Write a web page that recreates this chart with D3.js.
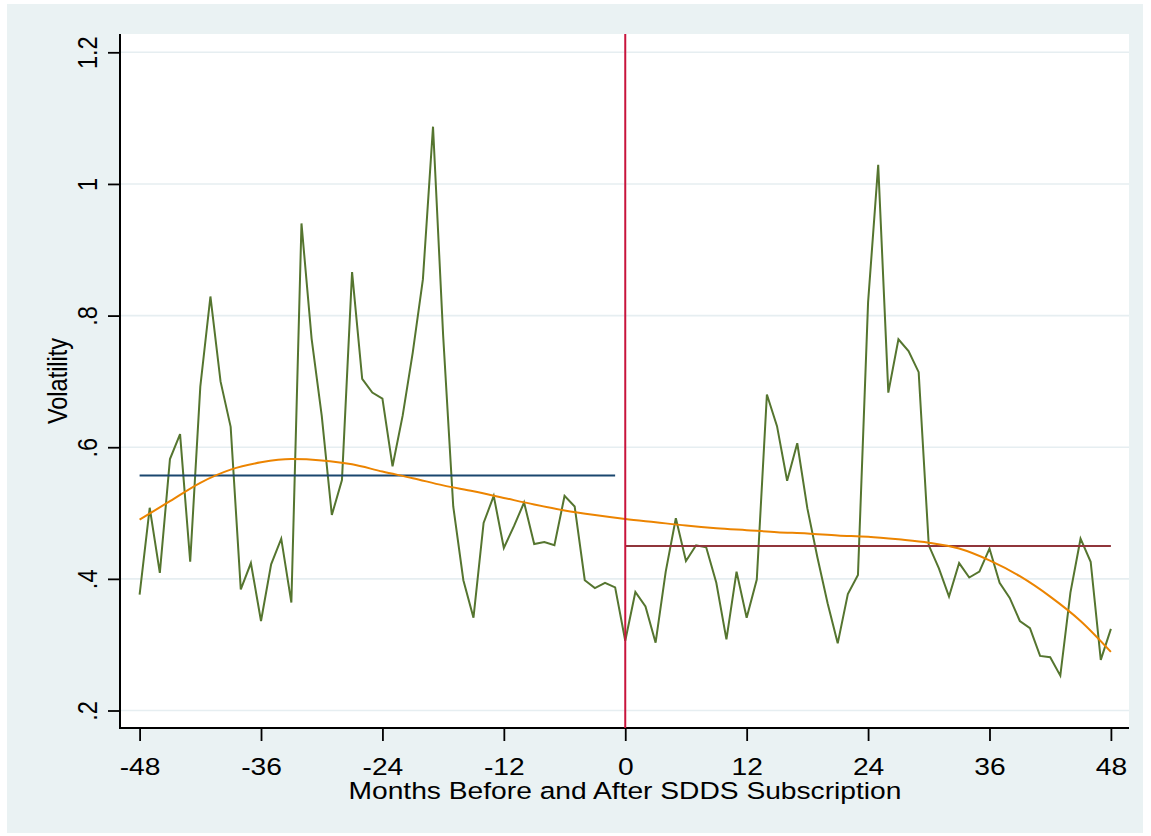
<!DOCTYPE html>
<html>
<head>
<meta charset="utf-8">
<script src="https://cdn.jsdelivr.net/npm/d3@7/dist/d3.min.js"></script>
<style>
  html, body { margin: 0; padding: 0; background: #ffffff; }
  svg { display: block; }
  text { font-family: "Liberation Sans", Arial, sans-serif; fill: #000; }
</style>
</head>
<body>
<svg id="chart" width="1151" height="836"></svg>
<script>
// Monthly volatility around SDDS subscription (month 0)
const months = d3.range(-48, 49);
const volatility = [
  0.376, 0.508, 0.409, 0.582, 0.620, 0.426, 0.692, 0.829, 0.700, 0.631, 0.384, 0.424,
  0.336, 0.422, 0.461, 0.364, 0.940, 0.765, 0.648, 0.497, 0.550, 0.866, 0.704, 0.683,
  0.674, 0.571, 0.648, 0.744, 0.855, 1.087, 0.770, 0.510, 0.398, 0.341, 0.485, 0.526,
  0.447, 0.480, 0.516, 0.453, 0.456, 0.451, 0.526, 0.510, 0.398, 0.386, 0.394, 0.387,
  0.306, 0.380, 0.358, 0.303, 0.411, 0.492, 0.427, 0.451, 0.448, 0.394, 0.308, 0.411,
  0.341, 0.399, 0.680, 0.632, 0.549, 0.606, 0.507, 0.432, 0.363, 0.302, 0.377, 0.406,
  0.820, 1.029, 0.683, 0.764, 0.746, 0.714, 0.451, 0.416, 0.373, 0.424, 0.402, 0.411,
  0.446, 0.394, 0.371, 0.336, 0.325, 0.283, 0.281, 0.253, 0.379, 0.461, 0.426, 0.277,
  0.324
];

// Smoothed (lowess) fit
const smoothMonths = [-48, -45, -42, -39, -36, -33, -30, -27, -24, -21, -18, -15, -12, -9, -6, -3,
                      0, 3, 6, 9, 12, 15, 18, 21, 24, 27, 30, 33, 36, 39, 42, 45, 48];
const smoothValues = [0.490, 0.518, 0.546, 0.566, 0.577, 0.582, 0.580, 0.574, 0.563, 0.553, 0.542,
                      0.533, 0.523, 0.513, 0.504, 0.497, 0.491, 0.486, 0.481, 0.477, 0.474, 0.471,
                      0.469, 0.466, 0.464, 0.460, 0.455, 0.446, 0.428, 0.404, 0.373, 0.336, 0.289];

// Period means before and after subscription
const meanSpans = [[-48, -1], [0, 48]];
const meanValues = [0.557, 0.450];

const xTicks = [-48, -36, -24, -12, 0, 12, 24, 36, 48];
const yTicks = [0.2, 0.4, 0.6, 0.8, 1.0, 1.2];
const yTickLabels = [".2", ".4", ".6", ".8", "1", "1.2"];

const svg = d3.select("#chart");
const plot = { left: 120, right: 1129, top: 34, bottom: 728 };

const x = d3.scaleLinear().domain([-48, 48]).range([139.6, 1110.9]);
const y = d3.scaleLinear().domain([0.2, 1.2]).range([710.5, 52.3]);

// Outer graph region and white plot region
svg.append("rect").attr("x", 7).attr("y", 4).attr("width", 1136).attr("height", 829).attr("fill", "#eaf2f3");
svg.append("rect").attr("x", plot.left).attr("y", plot.top)
  .attr("width", plot.right - plot.left).attr("height", plot.bottom - plot.top).attr("fill", "#ffffff");

// Horizontal grid lines
svg.append("g").selectAll("line").data(yTicks).join("line")
  .attr("x1", plot.left).attr("x2", plot.right)
  .attr("y1", d => y(d)).attr("y2", d => y(d))
  .attr("stroke", "#e6eef1").attr("stroke-width", 1.6);

// Y axis
const yAxis = svg.append("g").attr("transform", `translate(${plot.left},0)`)
  .call(d3.axisLeft(y).tickValues(yTicks).tickSize(12).tickSizeOuter(0)
    .tickFormat((d, i) => yTickLabels[i]));
yAxis.select(".domain").remove();
yAxis.selectAll(".tick line").attr("stroke", "#000").attr("stroke-width", 1.8);
yAxis.selectAll(".tick text")
  .attr("x", null).attr("dy", null).attr("y", null)
  .attr("text-anchor", "middle")
  .attr("transform", "translate(-23,0) scale(1.2,1) rotate(-90)")
  .style("font-size", "23.5px").attr("fill", "#000");

// X axis (plain hyphen for negative months)
const xAxis = svg.append("g").attr("transform", `translate(0,${plot.bottom})`)
  .call(d3.axisBottom(x).tickValues(xTicks).tickSize(13).tickSizeOuter(0).tickFormat(d => String(d)));
xAxis.select(".domain").remove();
xAxis.selectAll(".tick line").attr("stroke", "#000").attr("stroke-width", 1.8);
xAxis.selectAll(".tick text")
  .attr("y", null).attr("dy", null)
  .attr("text-anchor", "middle")
  .attr("transform", "translate(0,47) scale(1.2,1)")
  .style("font-size", "23.5px").attr("fill", "#000");

// Axis lines
svg.append("line").attr("x1", plot.left).attr("x2", plot.left)
  .attr("y1", plot.top).attr("y2", plot.bottom + 1).attr("stroke", "#000").attr("stroke-width", 2);
svg.append("line").attr("x1", plot.left - 1).attr("x2", plot.right)
  .attr("y1", plot.bottom).attr("y2", plot.bottom).attr("stroke", "#000").attr("stroke-width", 2);

// Axis titles
svg.append("g").attr("transform", "translate(625,799) scale(1.2,1)")
  .append("text").attr("text-anchor", "middle").style("font-size", "23.5px")
  .text("Months Before and After SDDS Subscription");
svg.append("g").attr("transform", `translate(67,${(plot.top + plot.bottom) / 2}) scale(1.2,1) rotate(-90)`)
  .append("text").attr("text-anchor", "middle").style("font-size", "23.5px")
  .text("Volatility");

// Volatility series
const line = d3.line().x((d, i) => x(months[i])).y(d => y(d));
svg.append("path").datum(volatility)
  .attr("d", line).attr("fill", "none")
  .attr("stroke", "#55752f").attr("stroke-width", 2).attr("stroke-linejoin", "miter");

// Period means
const meanColors = ["#1a476f", "#90353b"];
svg.append("g").selectAll("line").data(meanValues).join("line")
  .attr("x1", (d, i) => x(meanSpans[i][0])).attr("x2", (d, i) => x(meanSpans[i][1]))
  .attr("y1", d => y(d)).attr("y2", d => y(d))
  .attr("stroke", (d, i) => meanColors[i]).attr("stroke-width", 2);

// Smoothed fit
const smoothLine = d3.line().curve(d3.curveMonotoneX)
  .x((d, i) => x(smoothMonths[i])).y(d => y(d));
svg.append("path").datum(smoothValues)
  .attr("d", smoothLine).attr("fill", "none")
  .attr("stroke", "#ec8400").attr("stroke-width", 2);

// Subscription date marker
svg.append("line").attr("x1", x(0)).attr("x2", x(0))
  .attr("y1", plot.top).attr("y2", plot.bottom)
  .attr("stroke", "#c8143c").attr("stroke-width", 2);
</script>
</body>
</html>
